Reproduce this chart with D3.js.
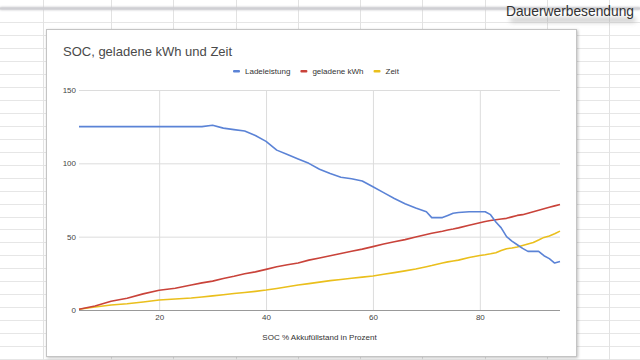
<!DOCTYPE html>
<html><head><meta charset="utf-8">
<script src="https://cdn.jsdelivr.net/npm/d3@7"></script>
<style>
html,body{margin:0;padding:0;background:#fff;}
svg{display:block;font-family:"Liberation Sans",Arial,sans-serif;}
</style></head>
<body><svg id="c" width="640" height="360"></svg>
<script>
const soc = [5,8,11,14,17,20,23,26,28,30,32,34,36,38,40,42,44,46,48,50,52,54,56,58,60,62,64,66,68,70,71,72,73,74,75,76,78,80,81,82,83,84,85,86,87,88,89,90,91,92,93,94,95];
const ladeleistung = [125,125,125,125,125,125,125,125,125,126,124,123,122,119,115,109,106,103,100,96,93,90.5,89.5,88,84,80,76,72.5,69.5,67,63,63,63,64.5,66,66.5,67,67,67,65,60,56,50,47,44.5,42,40,40,40,37,35,32,33];
const geladeneKWh = [0.5,2.7,6,8,11,13.5,14.8,17,18.5,19.7,21.5,23,24.7,26,27.7,29.5,30.8,32,34,35.5,37,38.5,40,41.5,43.2,45,46.5,48,49.8,51.5,52.3,53,53.7,54.5,55.2,56,57.8,59.5,60.3,61,61.5,62,62.5,63.5,64.5,65,66,67,68,69,70,71,72];
const zeit = [0.5,2,3.4,4.3,5.5,6.8,7.5,8.2,8.9,9.6,10.4,11.2,11.9,12.7,13.6,14.7,15.8,17,18,19,20,20.8,21.6,22.4,23.2,24.4,25.5,26.7,28,29.5,30.3,31.2,32,32.8,33.4,34,35.8,37.2,37.7,38.3,39,40.5,41.8,42.3,43,44,45,46,47.7,49.5,50.5,52,53.8];
const seriesNames = ["Ladeleistung","geladene kWh","Zeit"];
const seriesColors = ["#5b83d6","#c9433a","#eabf1c"];
const xTicks = [20,40,60,80];
const yTicks = [0,50,100,150];
const title = "SOC, geladene kWh und Zeit";
const xTitle = "SOC % Akkufüllstand in Prozent";
const overlayText = "Dauerwerbesendung";

const svg = d3.select("#c");
const defs = svg.append("defs");
const f = defs.append("filter").attr("id","sh").attr("x","-5%").attr("y","-5%").attr("width","115%").attr("height","115%");
f.append("feDropShadow").attr("dx",1).attr("dy",1).attr("stdDeviation",1.5).attr("flood-color","#000").attr("flood-opacity",0.25);
const f2 = defs.append("filter").attr("id","blur").attr("x","-10%").attr("y","-100%").attr("width","120%").attr("height","300%");
f2.append("feGaussianBlur").attr("stdDeviation",1.2);
const f3 = defs.append("filter").attr("id","blur2").attr("x","-20%").attr("y","-200%").attr("width","140%").attr("height","500%");
f3.append("feGaussianBlur").attr("stdDeviation",2.5);

// spreadsheet background grid
const bg = svg.append("g");
for (let y = 22.3; y < 360; y += 12.95) {
  bg.append("line").attr("x1",0).attr("x2",640).attr("y1",Math.round(y)+0.5).attr("y2",Math.round(y)+0.5).attr("stroke","#e6e6e6");
}
[43,111,173,236,298,360,422,485,547,609].forEach(x=>{
  bg.append("line").attr("x1",x+0.5).attr("x2",x+0.5).attr("y1",0).attr("y2",360).attr("stroke","#e2e2e2");
});
bg.append("rect").attr("x",0).attr("y",7).attr("width",640).attr("height",3).attr("fill","#c9c9cd").attr("filter","url(#blur)");
bg.append("rect").attr("x",0).attr("y",7.5).attr("width",640).attr("height",2).attr("fill","#cfcfd3");

// card
svg.append("rect").attr("x",46.5).attr("y",29.5).attr("width",530).attr("height",327)
  .attr("fill","#fff").attr("stroke","#c4c4c4").attr("filter","url(#sh)");

svg.append("text").attr("x",63).attr("y",56).attr("font-size",13).attr("fill","#4a4a4a").text(title);

const x = d3.scaleLinear().domain([5,95]).range([79,560]);
const y = d3.scaleLinear().domain([0,150]).range([310,90]);

// gridlines
const g = svg.append("g");
g.append("g")
  .call(d3.axisBottom(x).tickValues(xTicks).tickSize(-(310-90)).tickFormat(""))
  .attr("transform","translate(0,310)")
  .call(a=>{a.select(".domain").remove(); a.selectAll("line").attr("stroke","#dcdcdc");});
g.append("g").attr("transform","translate(79,0)")
  .call(d3.axisLeft(y).tickValues(yTicks).tickSize(-(560-79)).tickFormat(""))
  .call(a=>{a.select(".domain").remove(); a.selectAll("line").attr("stroke","#dcdcdc");});

// tick labels
const yl = svg.append("g").attr("transform","translate(76,0)")
  .call(d3.axisLeft(y).tickValues(yTicks).tickSize(0).tickPadding(0));
yl.select(".domain").remove();
yl.selectAll("text").attr("font-size",8).attr("fill","#444").attr("font-family","Liberation Sans, Arial, sans-serif");
const xl = svg.append("g").attr("transform","translate(0,314)")
  .call(d3.axisBottom(x).tickValues(xTicks).tickSize(0).tickPadding(0));
xl.select(".domain").remove();
xl.selectAll("text").attr("font-size",8).attr("fill","#444").attr("font-family","Liberation Sans, Arial, sans-serif");

svg.append("text").attr("x",(79+560)/2).attr("y",340).attr("text-anchor","middle").attr("font-size",8).attr("fill","#333").text(xTitle);

// lines
const all = [ladeleistung, geladeneKWh, zeit];
const line = d3.line().x((d,i)=>x(soc[i])).y(d=>y(d));
[2,1,0].forEach(k=>{
  svg.append("path").datum(all[k]).attr("d",line).attr("fill","none")
    .attr("stroke",seriesColors[k]).attr("stroke-width",1.6).attr("stroke-linejoin","round");
});
svg.append("line").attr("x1",79).attr("x2",560).attr("y1",310.5).attr("y2",310.5).attr("stroke","#999").attr("stroke-width",1);

// legend
const lg = svg.append("g");
let lx = 233;
seriesNames.forEach((n,k)=>{
  lg.append("rect").attr("x",lx).attr("y",70).attr("width",7).attr("height",2.5).attr("rx",1).attr("fill",seriesColors[k]);
  const t = lg.append("text").attr("x",lx+12).attr("y",74).attr("font-size",8).attr("fill","#333").text(n);
  lx += 12 + t.node().getComputedTextLength() + 10;
});

// overlay text with soft shadow
svg.append("rect").attr("x",510).attr("y",18).attr("width",126).attr("height",4).attr("rx",2).attr("fill","#999").attr("opacity",0.6).attr("filter","url(#blur2)");
svg.append("text").attr("x",506).attr("y",16).attr("font-size",14).attr("textLength",128).attr("lengthAdjust","spacingAndGlyphs").attr("fill","#333").text(overlayText);
</script></body></html>
